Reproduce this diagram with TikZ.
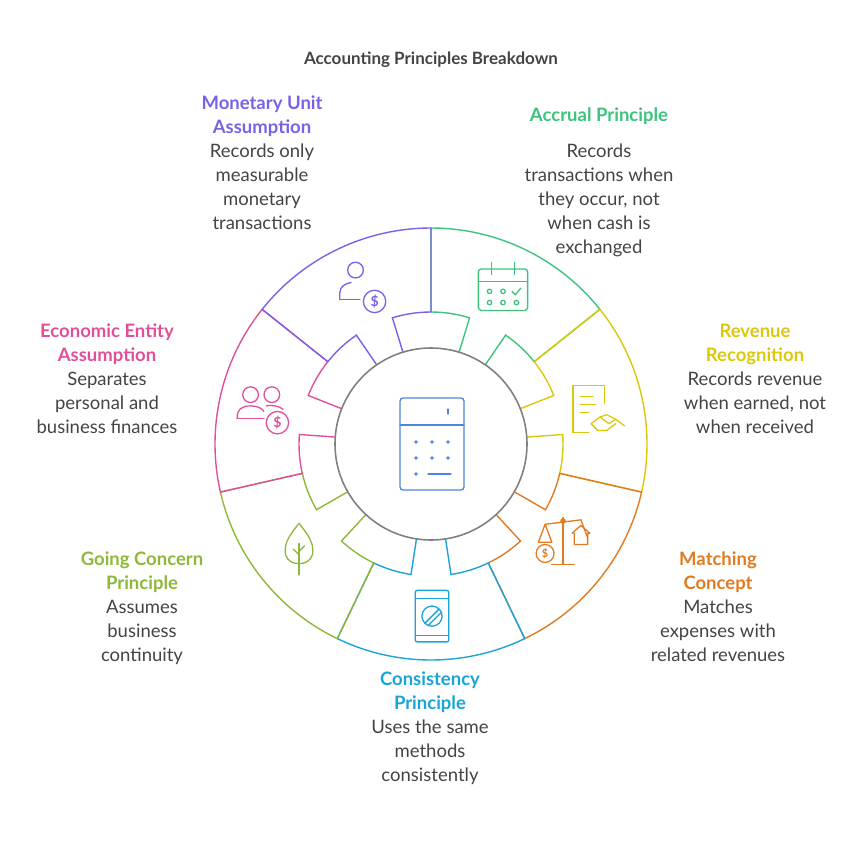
\documentclass[tikz,border=0pt]{standalone}
\usepackage{fontspec}
\setmainfont{Lato}
\definecolor{cpur}{HTML}{7B61E8}
\definecolor{cgrn}{HTML}{3CC47C}
\definecolor{cyel}{HTML}{DCC80A}
\definecolor{cora}{HTML}{E07B22}
\definecolor{cblu}{HTML}{1AA4D8}
\definecolor{clim}{HTML}{8DB83A}
\definecolor{cpnk}{HTML}{E0509A}
\definecolor{ccal}{HTML}{4A86E0}
\definecolor{ctxt}{HTML}{444444}
\tikzset{
 lbl/.style={align=center,anchor=north,font=\fontsize{18.5}{24}\selectfont,text=ctxt,inner sep=0pt},
 seg/.style={line width=1.4pt},
 ico/.style={line width=1.3pt,line cap=round,line join=round,scale=1.12}
}
\begin{document}
\begin{tikzpicture}[x=1pt,y=-1pt]
\useasboundingbox (0,0) rectangle (864,841);
\node[font=\bfseries\fontsize{17}{18}\selectfont,text=ctxt] (title) at (431,60) {Accounting Principles Breakdown};
% ring
\begin{scope}[shift={(431,444)},yscale=-1]
\foreach \a/\c in {38.57/cgrn,-12.86/cyel,-64.29/cora,-115.71/cblu,-167.14/clim,141.43/cpnk,90/cpur}{
 \draw[seg,\c] ({\a+17}:96) -- ({\a+17}:132) arc[start angle=\a+17,end angle=\a,radius=132] -- (\a:216) arc[start angle=\a,end angle=\a+51.43,radius=216] -- ({\a+51.43}:132) arc[start angle=\a+51.43,end angle=\a+34.43,radius=132] -- ({\a+34.43}:96);
}
\node[circle,draw=gray,line width=1.6pt,minimum size=192pt,inner sep=0pt] (hub) at (0,0) {};
\end{scope}
% calculator
\begin{scope}[ccal,line width=1.3pt,line cap=round]
\draw[rounded corners=3pt] (400,398) rectangle (464,490);
\draw (400,425) -- (464,425);
\draw (448,409) -- (448,414);
\foreach \x in {416,432,448}{\foreach \y in {442,458}{\fill (\x,\y) circle (1.8pt);}}
\fill (416,474) circle (1.8pt);
\draw (428,474) -- (451,474);
\end{scope}
% purple: person + dollar
\begin{scope}[shift={(360,288)},cpur,ico]
\draw (-4,-16) circle (7);
\draw (-18,10) -- (-18,4) .. controls (-18,-2) and (-12,-4) .. (-8,-5);
\draw (-18,10) -- (0,10);
\draw (13,12) circle (10);
\node[font=\bfseries\fontsize{14}{14}\selectfont,text=cpur,inner sep=0] (pd) at (13,12) {\$};
\end{scope}
% green: calendar
\begin{scope}[shift={(503,288)},cgrn,ico]
\draw[rounded corners=3pt] (-22,-17) rectangle (22,20);
\draw (-22,-6) -- (22,-6);
\draw (-10,-23) -- (-10,-12); \draw (10,-23) -- (10,-12);
\foreach \x in {-12,0}{\draw (\x,3) circle (2);}
\draw (8,3) -- (11,6) -- (16,0);
\foreach \x in {-12,0,12}{\draw (\x,13) circle (2);}
\end{scope}
% yellow: document + handshake
\begin{scope}[shift={(600,408)},cyel,ico]
\draw (-24,22) -- (-24,-20) -- (4,-20) -- (4,-4);
\draw (-18,-10) -- (-6,-10); \draw (-18,-3) -- (-4,-3); \draw (-18,4) -- (-10,4);
\draw (-24,22) -- (-10,22);
\draw (-8,14) -- (0,8) -- (8,14) -- (14,10) -- (22,16);
\draw (-8,14) -- (-2,20) -- (6,20) -- (14,14);
\draw (0,8) -- (6,6) -- (14,10);
\end{scope}
% orange: scales
\begin{scope}[shift={(563,540)},cora,ico]
\draw (0,-20) -- (0,22); \draw (-10,22) -- (10,22);
\draw (-16,-14) -- (16,-18);
\fill (0,-17) circle (2.5);
\draw (-16,-14) -- (-22,2) -- (-10,2) -- cycle;
\draw (-16,12) circle (8);
\node[font=\bfseries\fontsize{11}{11}\selectfont,text=cora,inner sep=0] (od) at (-16,12) {\$};
\draw (16,-18) -- (22,-2);
\draw (8,-6) -- (16,-13) -- (24,-6) -- (22,-6) -- (22,4) -- (10,4) -- (10,-6);
\end{scope}
% blue: card
\begin{scope}[shift={(432,615)},cblu,ico]
\draw[rounded corners=2pt] (-15,-22) rectangle (15,24);
\draw (-15,-15) -- (15,-15); \draw (-15,18) -- (15,18);
\draw (0,1) circle (9);
\draw (-6,7) -- (6,-5); \draw (-3,9) -- (8,-2);
\end{scope}
% lime: tree
\begin{scope}[shift={(299,548)},clim,ico]
\draw (0,-22) .. controls (-8,-12) and (-14,-4) .. (-12,6) .. controls (-10,12) and (-5,14) .. (0,14) .. controls (5,14) and (10,12) .. (12,6) .. controls (14,-4) and (8,-12) .. (0,-22);
\draw (0,-4) -- (0,24); \draw (0,6) -- (-5,1); \draw (0,3) -- (5,-2);
\end{scope}
% pink: two persons + dollar
\begin{scope}[shift={(264,407)},cpnk,ico]
\draw (-12,-11) circle (7); \draw (7,-11) circle (7);
\draw (-24,10) .. controls (-24,2) and (-20,-1) .. (-12,-1) .. controls (-6,-1) and (-2,1) .. (0,4);
\draw (-24,10) -- (0,10);
\draw (2,-1) .. controls (6,-2) and (14,-1) .. (17,2);
\draw (12,14) circle (10);
\node[font=\bfseries\fontsize{14}{14}\selectfont,text=cpnk,inner sep=0] (kd) at (12,14) {\$};
\end{scope}
% labels
\node[lbl] (l1) at (262,96) {\textcolor{cpur}{\bfseries Monetary Unit}\\\textcolor{cpur}{\bfseries Assumption}\\Records only\\measurable\\monetary\\transactions};
\node[lbl] (l2) at (599,108) {\textcolor{cgrn}{\bfseries Accrual Principle}\\[12pt]Records\\transactions when\\they occur, not\\when cash is\\exchanged};
\node[lbl] (l3) at (755,324) {\textcolor{cyel}{\bfseries Revenue}\\\textcolor{cyel}{\bfseries Recognition}\\Records revenue\\when earned, not\\when received};
\node[lbl] (l4) at (718,552) {\textcolor{cora}{\bfseries Matching}\\\textcolor{cora}{\bfseries Concept}\\Matches\\expenses with\\related revenues};
\node[lbl] (l5) at (430,672) {\textcolor{cblu}{\bfseries Consistency}\\\textcolor{cblu}{\bfseries Principle}\\Uses the same\\methods\\consistently};
\node[lbl] (l6) at (142,552) {\textcolor{clim}{\bfseries Going Concern}\\\textcolor{clim}{\bfseries Principle}\\Assumes\\business\\continuity};
\node[lbl] (l7) at (107,324) {\textcolor{cpnk}{\bfseries Economic Entity}\\\textcolor{cpnk}{\bfseries Assumption}\\Separates\\personal and\\business finances};
\end{tikzpicture}
\end{document}
